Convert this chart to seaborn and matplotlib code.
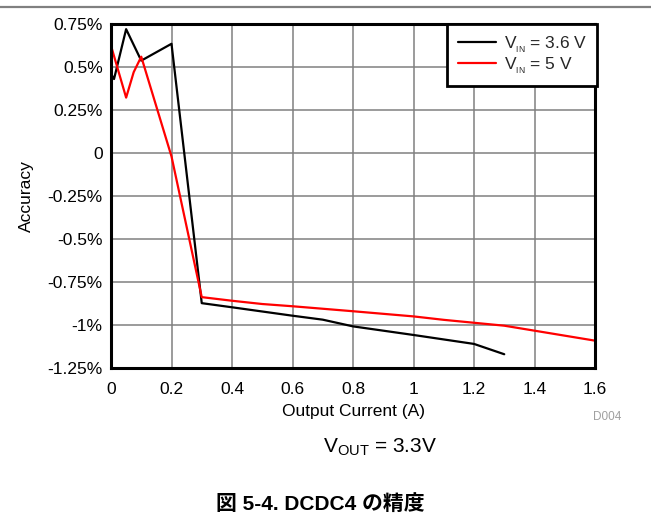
import matplotlib
matplotlib.use("Agg")
import matplotlib.pyplot as plt
import seaborn as sns
import pandas as pd
from matplotlib.lines import Line2D
from matplotlib.ticker import FuncFormatter

# Measured accuracy (%) versus output current (A)
current_36v = [0.0, 0.01, 0.05, 0.1, 0.2, 0.3, 0.4, 0.6, 0.7, 0.8, 1.0, 1.2, 1.3]
accuracy_36v = [0.46, 0.43, 0.72, 0.537, 0.635, -0.873, -0.897, -0.946, -0.969, -1.008, -1.058, -1.11, -1.17]

current_5v = [0.0, 0.05, 0.075, 0.1, 0.2, 0.3, 0.4, 0.5, 0.6, 0.8, 1.0, 1.1, 1.2, 1.3, 1.4, 1.6]
accuracy_5v = [0.624, 0.322, 0.47, 0.56, -0.02, -0.838, -0.859, -0.878, -0.891, -0.92, -0.95, -0.97, -0.987, -1.004, -1.033, -1.091]

series_names = ["3.6 V", "5 V"]
series_labels = [r"V$_{{}_{\mathrm{IN}}}$ = 3.6 V", r"V$_{{}_{\mathrm{IN}}}$ = 5 V"]
series_colors = ["#000000", "#ff0000"]

x_ticks = [0, 0.2, 0.4, 0.6, 0.8, 1.0, 1.2, 1.4, 1.6]
y_ticks = [0.75, 0.5, 0.25, 0, -0.25, -0.5, -0.75, -1.0, -1.25]

df = pd.concat([
    pd.DataFrame({"current": current_36v, "accuracy": accuracy_36v, "series": series_names[0]}),
    pd.DataFrame({"current": current_5v, "accuracy": accuracy_5v, "series": series_names[1]}),
], ignore_index=True)

sns.set_theme(style="white")
plt.rcParams["font.family"] = ["Liberation Sans", "Noto Sans CJK JP", "DejaVu Sans"]
plt.rcParams["mathtext.fontset"] = "custom"
plt.rcParams["mathtext.rm"] = "Liberation Sans"
plt.rcParams["mathtext.it"] = "Liberation Sans:italic"
plt.rcParams["mathtext.bf"] = "Liberation Sans:bold"

fig = plt.figure(figsize=(6.51, 5.23), dpi=100)
ax = fig.add_axes([111 / 651, 1 - 368 / 523, 484 / 651, 344 / 523])

sns.lineplot(data=df, x="current", y="accuracy", hue="series",
             palette=dict(zip(series_names, series_colors)),
             sort=False, estimator=None, linewidth=1.6, ax=ax, legend=False)

ax.set_xlim(0, 1.6)
ax.set_ylim(-1.25, 0.75)
ax.set_xticks(x_ticks)
ax.set_yticks(y_ticks)


def fmt_x(v, _):
    return f"{v:g}"


def fmt_y(v, _):
    if abs(v) < 1e-9:
        return "0"
    return f"{v:g}%"


ax.xaxis.set_major_formatter(FuncFormatter(fmt_x))
ax.yaxis.set_major_formatter(FuncFormatter(fmt_y))
ax.tick_params(axis="both", length=0, labelsize=12.5, colors="#000000")
ax.tick_params(axis="x", pad=10)
ax.tick_params(axis="y", pad=6)

ax.grid(True, color="#808080", linewidth=1.1)
ax.set_axisbelow(True)
for spine in ax.spines.values():
    spine.set_visible(True)
    spine.set_color("#000000")
    spine.set_linewidth(2.2)

ax.set_xlabel("Output Current (A)", fontsize=12.5, labelpad=5, color="#000000")
ax.set_ylabel("Accuracy", fontsize=12.5, color="#000000")
ax.yaxis.set_label_coords(-0.16, 0.5)

handles = [Line2D([0], [0], color=c, linewidth=1.6) for c in series_colors]
leg = ax.legend(handles, series_labels, loc="upper right", bbox_to_anchor=(1.005, 1.0),
                fontsize=12.5, frameon=True, fancybox=False, handlelength=2.2,
                handletextpad=0.45, labelspacing=0.0, borderpad=0.6,
                borderaxespad=0.0)
leg.get_frame().set_edgecolor("#000000")
leg.get_frame().set_linewidth(2.0)
leg.get_frame().set_alpha(1.0)

fig.text(607 / 651, 1 - 417 / 523, "D004", fontsize=8.5, color="#a0a0a0",
         ha="center", va="center")
fig.text(380 / 651, 1 - 447 / 523, r"V$_{\mathrm{OUT}}$ = 3.3V", fontsize=15,
         ha="center", va="center", color="#000000")
fig.text(320 / 651, 1 - 504 / 523, "図 5-4. DCDC4 の精度", fontsize=15,
         fontweight="bold", ha="center", va="center", color="#000000",
         family=["Liberation Sans", "Noto Sans CJK JP"])

# Rule across the top of the page
fig.add_artist(Line2D([0, 1], [1 - 7 / 523, 1 - 7 / 523], transform=fig.transFigure,
                      color="#808080", linewidth=1.6))

fig.savefig("out.png", dpi=100)
